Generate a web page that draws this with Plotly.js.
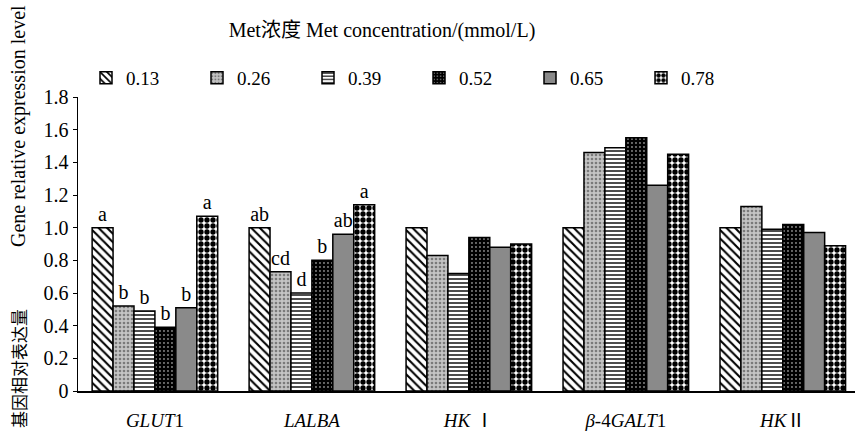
<!DOCTYPE html>
<html><head><meta charset="utf-8">
<script src="https://cdn.plot.ly/plotly-3.0.1.min.js"></script>
<style>html,body{margin:0;padding:0;background:#fff}</style>
</head><body><div id="c" style="width:855px;height:432px"></div>
<script>
const categories = ['<i>GLUT</i>1', '<i>LALBA</i>', '<i>HK</i> Ⅰ', '<i>β</i>-4<i>GALT</i>1', '<i>HK</i>Ⅱ'];
const seriesNames = ['0.13', '0.26', '0.39', '0.52', '0.65', '0.78'];
const v013 = [1.00, 1.00, 1.00, 1.00, 1.00];
const v026 = [0.52, 0.73, 0.83, 1.46, 1.13];
const v039 = [0.49, 0.60, 0.72, 1.49, 0.99];
const v052 = [0.39, 0.80, 0.94, 1.55, 1.02];
const v065 = [0.51, 0.96, 0.88, 1.26, 0.97];
const v078 = [1.07, 1.14, 0.90, 1.45, 0.89];
const t013 = ['a', 'ab', '', '', ''];
const t026 = ['b', 'cd', '', '', ''];
const t039 = ['b', 'd', '', '', ''];
const t052 = ['b', 'b', '', '', ''];
const t065 = ['b', 'ab', '', '', ''];
const t078 = ['a', 'a', '', '', ''];
const yTickVals = [0, 0.2, 0.4, 0.6, 0.8, 1.0, 1.2, 1.4, 1.6, 1.8];
const yTickText = ['0', '0.2', '0.4', '0.6', '0.8', '1.0', '1.2', '1.4', '1.6', '1.8'];
const titleText = 'Met浓度 Met concentration/(mmol/L)';
const yTitleEn = 'Gene relative expression level';
const yTitleZh = '基因相对表达量';

const values = [v013, v026, v039, v052, v065, v078];
const texts = [t013, t026, t039, t052, t065, t078];
const patterns = [
  {shape: '\\', fgcolor: '#000', bgcolor: '#fff', size: 6, solidity: 0.35},
  {shape: '.', fgcolor: '#7a7a7a', bgcolor: '#c4c4c4', size: 4, solidity: 0.35},
  {shape: '-', fgcolor: '#000', bgcolor: '#fff', size: 4, solidity: 0.35},
  {shape: '.', fgcolor: '#fff', bgcolor: '#000', size: 4, solidity: 0.1},
  {shape: '', fgcolor: '#888', bgcolor: '#888', size: 4, solidity: 0.3},
  {shape: '.', fgcolor: '#000', bgcolor: '#fff', size: 6, solidity: 0.62}
];
const colors = ['#fff', '#bdbdbd', '#fff', '#111', '#8a8a8a', '#fff'];
const serif = 'Liberation Serif, Times New Roman, Noto Sans CJK SC, serif';

const traces = seriesNames.map((n, i) => ({
  type: 'bar', name: n, x: categories, y: values[i],
  text: texts[i], textposition: 'outside', cliponaxis: false,
  textfont: {family: serif, size: 20, color: '#000'},
  marker: {color: colors[i], line: {color: '#000', width: 1.5}, pattern: patterns[i]},
  hoverinfo: 'skip'
}));

const layout = {
  width: 855, height: 432,
  margin: {l: 78, r: 0, t: 97, b: 41},
  paper_bgcolor: '#fff', plot_bgcolor: '#fff',
  font: {family: serif, size: 19, color: '#000'},
  barmode: 'group', bargap: 0.2, bargroupgap: 0,
  showlegend: true,
  title: {text: titleText, x: 382/855, xref: 'container', xanchor: 'center',
          y: 1 - 30/432, yref: 'container', yanchor: 'middle', font: {family: serif, size: 20, color: '#000'}},
  legend: {orientation: 'h', x: 86/855, xref: 'container', xanchor: 'left', y: 1 - 78/432, yref: 'container', yanchor: 'middle',
           entrywidth: 66, entrywidthmode: 'pixels', itemwidth: 30, font: {family: serif, size: 19, color: '#000'},
           bgcolor: 'rgba(0,0,0,0)', traceorder: 'normal'},
  xaxis: {range: [-0.49, 4.46], showline: true, linecolor: '#000', linewidth: 1.5, ticks: '', showgrid: false,
          zeroline: false, tickfont: {family: serif, size: 19, color: '#000'}, ticklabelstandoff: 12, fixedrange: true},
  yaxis: {range: [0, 1.8], tickvals: yTickVals, ticktext: yTickText, showline: true, linecolor: '#000', linewidth: 1.5,
          ticks: 'outside', ticklen: 4, tickcolor: '#000', showgrid: false, zeroline: false,
          tickfont: {family: serif, size: 20, color: '#000'}, fixedrange: true},
  annotations: [
    {text: yTitleEn, textangle: -90, xref: 'paper', yref: 'paper',
     x: 0, xshift: -60, y: (391 - 126) / 294, xanchor: 'center', yanchor: 'middle', showarrow: false,
     font: {family: serif, size: 20, color: '#000'}},
    {text: yTitleZh, textangle: -90, xref: 'paper', yref: 'paper',
     x: 0, xshift: -60, y: (391 - 369) / 294, xanchor: 'center', yanchor: 'middle', showarrow: false,
     font: {family: 'Noto Sans CJK SC, sans-serif', size: 17, color: '#000'}}
  ]
};
Plotly.newPlot('c', traces, layout, {displayModeBar: false, staticPlot: true});
</script></body></html>
